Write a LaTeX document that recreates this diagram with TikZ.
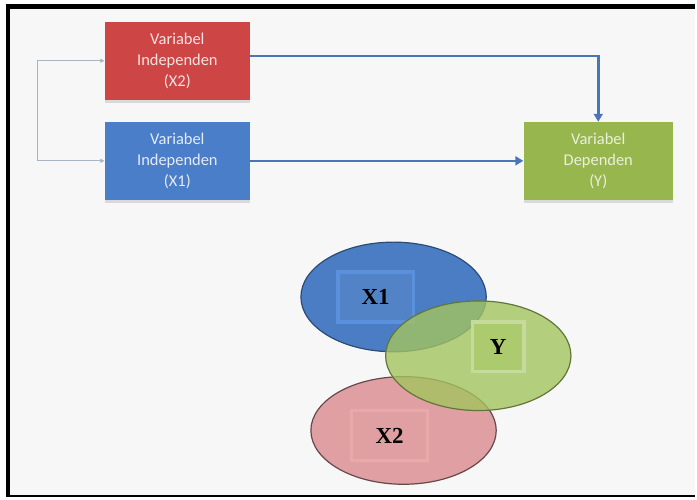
\documentclass[tikz,border=0pt]{standalone}
\usepackage{fontspec}
\setmainfont{Carlito}
\newfontfamily\labelfont{Liberation Serif}
\usetikzlibrary{arrows.meta,positioning,shapes.geometric,shadows}
\definecolor{boxRed}{HTML}{CD4545}
\definecolor{boxBlue}{HTML}{4A7EC8}
\definecolor{boxGreen}{HTML}{98B64E}
\definecolor{lineBlue}{HTML}{4A76B8}
\definecolor{lineGrey}{HTML}{A7B5C4}
\definecolor{paper}{HTML}{F7F7F7}
\definecolor{ovalBlue}{HTML}{4A7DC4}
\definecolor{ovalGreen}{HTML}{A3C45E}
\definecolor{ovalRed}{HTML}{E09FA2}
\definecolor{tagBlue}{HTML}{5A90DC}
\definecolor{tagRed}{HTML}{E9A9AB}
\definecolor{tagGreen}{HTML}{C6DA9C}

\begin{document}
\begin{tikzpicture}[
  x=1pt, y=-1pt,
  every node/.style={align=center},
  varbox/.style={minimum width=146pt,minimum height=78pt,inner sep=0pt,
    font=\fontsize{16.5}{21}\selectfont,
    drop shadow={shadow xshift=0pt,shadow yshift=-3pt,opacity=0.25}},
  oval/.style={ellipse,minimum width=186pt,minimum height=110pt,line width=1.2pt},
  tag/.style={minimum width=76pt,minimum height=50pt,line width=3.5pt,
    font=\labelfont\bfseries\fontsize{23}{25}\selectfont},
  arrow/.style={-{Triangle[length=8pt,width=9pt]},line width=2.6pt,color=lineBlue},
  feed/.style={{Triangle[length=4pt,width=4pt]}-{Triangle[length=4pt,width=4pt]},line width=0.9pt,color=lineGrey}
]
% latar dan bingkai
\fill[white] (0,0) rectangle (697,499);
\fill[paper] (8,6) rectangle (697,498);
\draw[line width=5pt] (6,6.5) -- (697,6.5);
\draw[line width=4pt] (8,4) -- (8,499);
\draw[line width=2pt] (6,498) -- (697,498);

% kotak variabel
\node[varbox,fill=boxRed,text=white!85!boxRed] (x2) at (178,61) {Variabel\\Independen\\(X2)};
\node[varbox,fill=boxBlue,text=white!85!boxBlue,below=22pt of x2] (x1) {Variabel\\Independen\\(X1)};
\node[varbox,fill=boxGreen,text=white!80!boxGreen,minimum width=150pt,right=274pt of x1] (y) {Variabel\\Dependen\\(Y)};

% hubungan
\draw[feed] (x2.west) -- ++(-67pt,0) |- (x1.west);
\draw[arrow] ([yshift=5pt]x2.east) -| (y.north);
\draw[arrow] (x1.east) -- (y.west);

% diagram lingkaran
\node[oval,fill=ovalBlue,draw=ovalBlue!60!black] (ex1) at (395,298) {};
\node[tag,draw=tagBlue,fill=ovalBlue!95!white] (lx1) at (377,298) {X1};
\node[oval,fill=ovalRed,draw=ovalRed!45!black,minimum height=108pt] (ex2) at (405,432) {};
\node[tag,draw=tagRed,fill=ovalRed] (lx2) at (391,437) {X2};
\node[oval,fill=ovalGreen,fill opacity=0.8,draw=ovalGreen!60!black] (ey) at (480,357) {};
\node[tag,draw=tagGreen,fill=ovalGreen!90!white,minimum width=52pt,minimum height=50pt] (ly) at (500,348) {Y};
\end{tikzpicture}
\end{document}
